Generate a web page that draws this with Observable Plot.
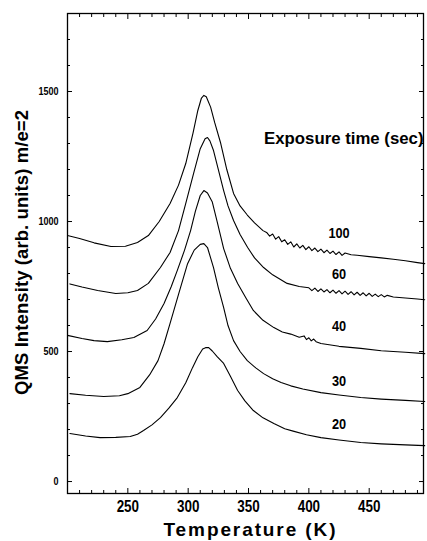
<!DOCTYPE html>
<html><head><meta charset="utf-8">
<script src="https://cdn.jsdelivr.net/npm/d3@7"></script>
<script src="https://cdn.jsdelivr.net/npm/@observablehq/plot@0.6"></script>
<style>body{margin:0;background:#fff}</style>
</head><body><div id="chart"></div>
<script>
// Exposure series (temperature K, QMS intensity arb. units)
const s100 = [[200,946],[210,935],[222,918],[236,904],[248,905],[258,919],[267,946],[276,1000],[285,1069],[292,1140],[298,1223],[304,1340],[308,1427],[311,1475],[313,1485],[315,1480],[318.6,1440],[322,1380],[327,1300],[332,1200],[337.6,1108],[343,1060],[349,1025],[355,995],[362,965],
 [365,958],[367.5,944],[370,952],[372.5,932],[375,942],[377.5,922],[380,930],[382.5,912],[385,922],[387.5,902],[390,914],[392.5,898],[395,908],[397.5,892],[400,903],[402.5,888],[405,898],[407.5,884],[410,894],[412.5,880],[415,890],[417.5,877],[420,886],[422.5,873],[425,883],[427.5,870],[430,879],[435,872],[440,870],
 [450,865],[460,860],[470,855],[480,849],[490,842],[496,838]];
const s60 = [[202,760],[212,748],[225,735],[240,723],[250,726],[258,735],[267,762],[277,823],[285,881],[292,965],[298,1070],[304.5,1185],[310,1280],[314,1318],[316,1323],[318,1310],[321,1273],[325,1200],[329.4,1119],[333,1060],[337.6,1004],[343,950],[349.3,900],[355,860],[362.5,823],[370,795],[382,762],[392,750],
 [400,745],[402.5,734],[405,744],[407.5,731],[410,741],[412.5,729],[415,738],[417.5,726],[420,736],[422.5,724],[425,734],[427.5,722],[430,732],[432.5,720],[435,730],[437.5,718],[440,728],[442.5,716],[445,726],[447.5,714],[450,724],[452.5,712],[455,721],[457.5,711],[460,719],[462.5,710],[465,716],
 [470,710],[480,706],[490,702],[496,699]];
const s40 = [[200,562],[212,550],[222,542],[233,538],[245,545],[255,554],[266,581],[273,625],[280,685],[286,750],[291,812],[297,890],[302,965],[306,1040],[310,1100],[313,1119],[316,1110],[320,1075],[324,1000],[329.4,896],[335,820],[341,762],[348,705],[354,658],[362,620],[371,592],[378,575],[385,567],[392,555],[396,560],[398,546],[400,553],[402,541],[404,548],[406,538],[410,531],[425,520],[443,512],[460,503],[480,497],[496,492]];
const s30 = [[202,338],[215,332],[230,327],[243,330],[250,338],[260,362],[268,410],[275,465],[280,530],[285,608],[292,720],[299.5,838],[305,890],[310,912],[313,915],[316,900],[321,823],[325,745],[329.4,669],[333,600],[337.6,542],[343,500],[349,465],[356,437],[362.5,415],[370,395],[377,381],[385,368],[395,356],[410,342],[425,333],[443,323],[460,317],[480,312],[496,308]];
const s20 = [[202,185],[215,175],[227,169],[240,170],[252,173],[258,182],[263,196],[270,218],[277,246],[284,282],[291,323],[298,380],[303.6,438],[308,480],[312,510],[314.4,515],[317,515],[320,502],[324,480],[329.4,454],[335,405],[341,350],[347,310],[354,273],[362,245],[371,223],[380,203],[387,194],[398,180],[410,169],[425,160],[443,150],[460,145],[480,141],[496,138]];

const seriesNames = ["100","60","40","30","20"];
const seriesData = [s100, s60, s40, s30, s20];
const labelT = [425, 425, 425, 425, 425];
const labelI = [956, 798, 598, 387, 218];

const xTicks = [250,300,350,400,450];
const xMinor = [210,220,230,240,260,270,280,290,310,320,330,340,360,370,380,390,410,420,430,440,460,470,480,490];
const yTicks = [0,500,1000,1500];
const yMinor = [100,200,300,400,600,700,800,900,1100,1200,1300,1400,1600,1700];

const legendTitle = "Exposure time (sec)";
const xLabel = "Temperature (K)";
const yLabel = "QMS Intensity (arb. units) m/e=2";

const rows = seriesData.flatMap((pts, i) => pts.map(([T, I]) => ({T, I, s: seriesNames[i]})));
const labels = seriesNames.map((name, i) => ({T: labelT[i], I: labelI[i], name}));

const chart = Plot.plot({
  width: 427, height: 541,
  marginLeft: 67, marginRight: 4, marginTop: 13, marginBottom: 48,
  x: {domain: [200, 495]},
  y: {domain: [-46, 1800]},
  style: {fontFamily: "'Liberation Sans', Arial, sans-serif", background: "white", color: "black"},
  marks: [
    Plot.line(rows, {x: "T", y: "I", z: "s", stroke: "black", strokeWidth: 1.1, curve: "linear"}),
    Plot.frame({stroke: "black", strokeWidth: 1.3}),
    Plot.axisX(xTicks, {anchor: "bottom", tickSize: -5, fill: "none", label: null}),
    Plot.axisX(xMinor, {anchor: "bottom", tickSize: -3, fill: "none", label: null}),
    Plot.axisX(xTicks, {anchor: "top", tickSize: -5, fill: "none", label: null}),
    Plot.axisX(xMinor, {anchor: "top", tickSize: -3, fill: "none", label: null}),
    Plot.axisY(yTicks, {anchor: "left", tickSize: -5, fill: "none", label: null}),
    Plot.axisY(yMinor, {anchor: "left", tickSize: -3, fill: "none", label: null}),
    Plot.axisY(yTicks, {anchor: "right", tickSize: -5, fill: "none", label: null}),
    Plot.axisY(yMinor, {anchor: "right", tickSize: -3, fill: "none", label: null}),
    Plot.axisX(xTicks, {anchor: "bottom", tickSize: 0, tickPadding: 7, stroke: "none", label: null,
      tickFormat: d3.format("d"), fontSize: 16, fontWeight: "bold"}),
    Plot.axisY(yTicks, {anchor: "left", tickSize: 0, tickPadding: 9, stroke: "none", label: null,
      tickFormat: d3.format("d"), fontSize: 10.5, fontWeight: "bold"}),
    Plot.text(labels, {x: "T", y: "I", text: "name", fontSize: 14.5, fontWeight: "bold", textAnchor: "middle"}),
    Plot.text([legendTitle], {x: 495, y: 1317, text: d => d, fontSize: 16.8, fontWeight: "bold", textAnchor: "end"}),
    Plot.text([xLabel], {frameAnchor: "bottom", dy: 42, dx: 4, text: d => d, textAnchor: "middle", lineAnchor: "bottom", fontSize: 19, fontWeight: "bold"}),
    Plot.text([yLabel], {frameAnchor: "left", dx: -40, dy: -1, rotate: -90, text: d => d, textAnchor: "middle", lineAnchor: "bottom", fontSize: 18.5, fontWeight: "bold"})
  ]
});
document.getElementById("chart").appendChild(chart);

// condense / stretch texts to the reference's proportions
function fitWidth(el, factor) {
  const w = el.getComputedTextLength();
  el.setAttribute("textLength", (w * factor).toFixed(1));
  el.setAttribute("lengthAdjust", factor < 1 ? "spacingAndGlyphs" : "spacing");
}
chart.querySelectorAll('[aria-label="x-axis tick label"] text').forEach(t => fitWidth(t, 0.84));
chart.querySelectorAll('[aria-label="y-axis tick label"] text').forEach(t => fitWidth(t, 0.86));
chart.querySelectorAll('text').forEach(t => {
  if (t.textContent === xLabel) fitWidth(t, 172 / t.getComputedTextLength());
  if (t.textContent === yLabel) fitWidth(t, 285 / t.getComputedTextLength());
  if (seriesNames.includes(t.textContent)) fitWidth(t, 0.88);
});
</script>
</body></html>
